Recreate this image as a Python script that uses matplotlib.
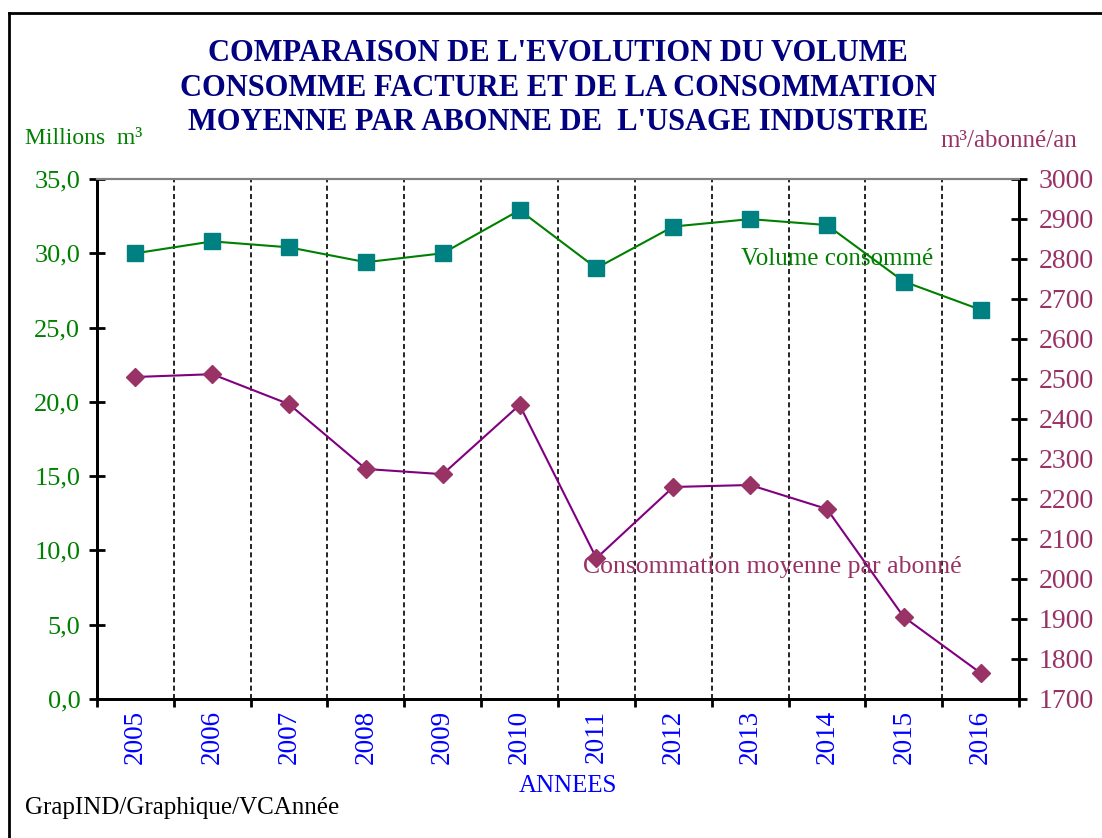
import numpy as np
import matplotlib.pyplot as plt
from matplotlib.lines import Line2D

plt.rcParams['font.family'] = ['Liberation Serif', 'DejaVu Serif']

# data
annees = ['2005', '2006', '2007', '2008', '2009', '2010',
          '2011', '2012', '2013', '2014', '2015', '2016']
volume = [30.0, 30.8, 30.4, 29.4, 30.0, 32.9, 29.0, 31.8, 32.3, 31.9, 28.1, 26.2]
conso_moy = [2505, 2512, 2437, 2275, 2262, 2435, 2052, 2230, 2235, 2175, 1905, 1765]

fig = plt.figure(figsize=(11.02, 8.38), dpi=100)

# frame around the figure (cut on right and bottom like the source)
fig.add_artist(Line2D([0.0082, 1.0], [0.9845, 0.9845], color='black', lw=2))
fig.add_artist(Line2D([0.0082, 0.0082], [0.0, 0.9845], color='black', lw=2))

ax = fig.add_axes([0.088, 0.1659, 0.8367, 0.6205])
ax2 = ax.twinx()

x = np.arange(len(annees))

ax.plot(x, volume, color='#008000', lw=1.5, marker='s', markersize=11,
        markerfacecolor='#008080', markeredgecolor='#008080', zorder=3)
ax2.plot(x, conso_moy, color='#800080', lw=1.5, marker='D', markersize=9,
         markerfacecolor='#993366', markeredgecolor='#993366', zorder=3)

ax.set_xlim(-0.5, len(annees) - 0.5)
ax.set_ylim(0, 35)
ax2.set_ylim(1700, 3000)

ax.set_yticks(np.arange(0, 35.1, 5))
ax.set_yticklabels([f'{v:.1f}'.replace('.', ',') for v in np.arange(0, 35.1, 5)])
ax2.set_yticks(np.arange(1700, 3001, 100))

ax.set_xticks(x)
ax.set_xticklabels(annees, rotation=90)
ax.set_xticks(np.arange(-0.5, len(annees), 1), minor=True)
ax.tick_params(axis='x', which='major', length=0, pad=8, labelsize=19.5, labelcolor='#0000FF')
ax.tick_params(axis='x', which='minor', length=6, width=2, direction='out', color='black')

for b in np.arange(0.5, len(annees) - 1, 1):
    ax.axvline(b, color='black', ls=(0, (3, 2)), lw=1.2, zorder=1)

ax.tick_params(axis='y', direction='inout', length=12, width=2, labelsize=19,
               labelcolor='#008000', pad=6)
ax2.tick_params(axis='y', direction='inout', length=12, width=2, labelsize=20,
                labelcolor='#993366', pad=8)

for a in (ax, ax2):
    a.spines['top'].set_color('#808080')
    a.spines['top'].set_linewidth(1.5)
    a.spines['left'].set_linewidth(2)
    a.spines['bottom'].set_linewidth(2)
    a.spines['right'].set_linewidth(2)

ax.set_title("COMPARAISON DE L'EVOLUTION DU VOLUME\n"
             "CONSOMME FACTURE ET DE LA CONSOMMATION\n"
             "MOYENNE PAR ABONNE DE  L'USAGE INDUSTRIE",
             fontsize=22, fontweight='bold', color='#000080', pad=35, linespacing=1.25)

fig.text(0.023, 0.835, 'Millions  m³', fontsize=17, color='#008000', ha='left', va='center')
fig.text(0.853, 0.832, 'm³/abonné/an', fontsize=18, color='#993366', ha='left', va='center')

ax.text(7.88, 29.6, 'Volume consommé', fontsize=18, color='#008000', ha='left', va='center')
ax2.text(5.82, 2030, 'Consommation moyenne par abonné', fontsize=18.5, color='#993366',
         ha='left', va='center')

fig.text(0.515, 0.062, 'ANNEES', fontsize=18, color='#0000FF', ha='center', va='center')
fig.text(0.023, 0.036, 'GrapIND/Graphique/VCAnnée', fontsize=18, color='black',
         ha='left', va='center')

fig.savefig('out.png', dpi=100)
